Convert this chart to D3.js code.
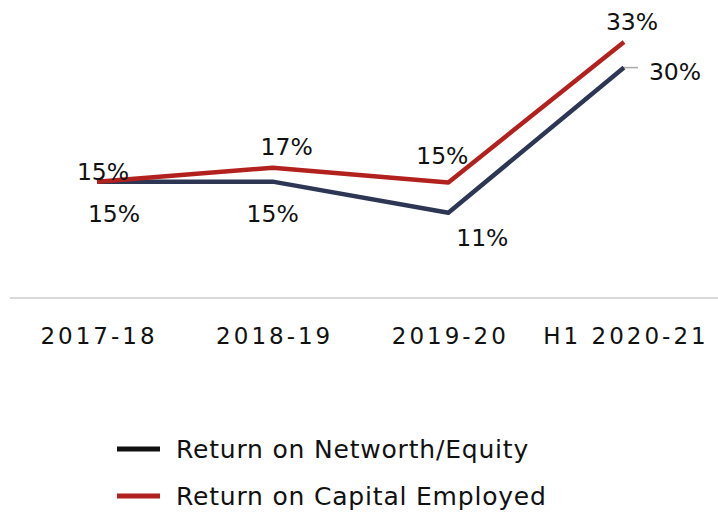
<!DOCTYPE html>
<html>
<head>
<meta charset="utf-8">
<script src="https://cdn.jsdelivr.net/npm/d3@7"></script>
<style>
  body { margin: 0; background: #fff; }
  svg text { font-family: "DejaVu Sans", sans-serif; fill: #111; }
</style>
</head>
<body>
<div id="chart"></div>
<script>
// data
let years = ["2017-18", "2018-19", "2019-20", "H1 2020-21"];
let roe = [15, 15, 11, 29.7];      // Return on Networth/Equity
let roce = [15, 16.8, 14.9, 33];   // Return on Capital Employed
let roeLabels = ["15%", "15%", "11%", "30%"];
let roceLabels = ["15%", "17%", "15%", "33%"];

// label offsets from the point (dx, dy) - layout only
let roeOff = [[17, 40], [0, 40], [34, 33], [51, 12]];
let roceOff = [[6, -2], [14, -13], [-6, -18], [8, -12]];

let width = 718, height = 520;

let svg = d3.select("#chart").append("svg")
    .attr("width", width)
    .attr("height", height);

let x = d3.scalePoint()
    .domain(years)
    .range([97, 624]);

let y = d3.scaleLinear()
    .domain([0, 33])
    .range([298, 42]);

// baseline
svg.append("line")
    .attr("x1", 10).attr("x2", 718)
    .attr("y1", y(0)).attr("y2", y(0))
    .attr("stroke", "#d9d9d9")
    .attr("stroke-width", 2);

// x axis labels
let xAxis = d3.axisBottom(x).tickSize(0).tickPadding(0);
let gx = svg.append("g")
    .attr("transform", "translate(0," + y(0) + ")")
    .call(xAxis);
gx.select(".domain").remove();
gx.selectAll("text")
    .attr("y", 46)
    .attr("dy", 0)
    .attr("dx", 1.5)
    .style("font-size", "23px")
    .style("letter-spacing", "3px")
    .style("font-family", "'DejaVu Sans', sans-serif")
    .attr("fill", "#111");

let line = d3.line()
    .x(function(d, i){ return x(years[i]); })
    .y(function(d){ return y(d); });

let series = [
    {vals: roe, labels: roeLabels, off: roeOff, color: "#2d3754"},
    {vals: roce, labels: roceLabels, off: roceOff, color: "#b3211e"}
];

series.forEach(function(s){
    svg.append("path")
        .datum(s.vals)
        .attr("d", line)
        .attr("fill", "none")
        .attr("stroke", s.color)
        .attr("stroke-width", 4.5)
        .attr("stroke-linejoin", "round");
});

// leader line for 30%
svg.append("line")
    .attr("x1", x(years[3])).attr("x2", x(years[3]) + 14)
    .attr("y1", y(roe[3])).attr("y2", y(roe[3]))
    .attr("stroke", "#aaa")
    .attr("stroke-width", 1.5);

series.forEach(function(s){
    svg.selectAll(null)
        .data(s.vals)
        .enter().append("text")
        .attr("x", function(d, i){ return x(years[i]) + s.off[i][0]; })
        .attr("y", function(d, i){ return y(d) + s.off[i][1]; })
        .attr("text-anchor", "middle")
        .style("font-size", "23.5px")
        .text(function(d, i){ return s.labels[i]; });
});

// legend
let legend = [
    {name: "Return on Networth/Equity", color: "#111"},
    {name: "Return on Capital Employed", color: "#b3211e"}
];
let lg = svg.selectAll(".legend")
    .data(legend)
    .enter().append("g")
    .attr("class", "legend")
    .attr("transform", function(d, i){ return "translate(117," + (449 + i * 47) + ")"; });
lg.append("line")
    .attr("x1", 0).attr("x2", 43)
    .attr("stroke", function(d){ return d.color; })
    .attr("stroke-width", 5);
lg.append("text")
    .attr("x", 59)
    .attr("y", 9)
    .style("font-size", "25px")
    .style("letter-spacing", "0.8px")
    .text(function(d){ return d.name; });
</script>
</body>
</html>
